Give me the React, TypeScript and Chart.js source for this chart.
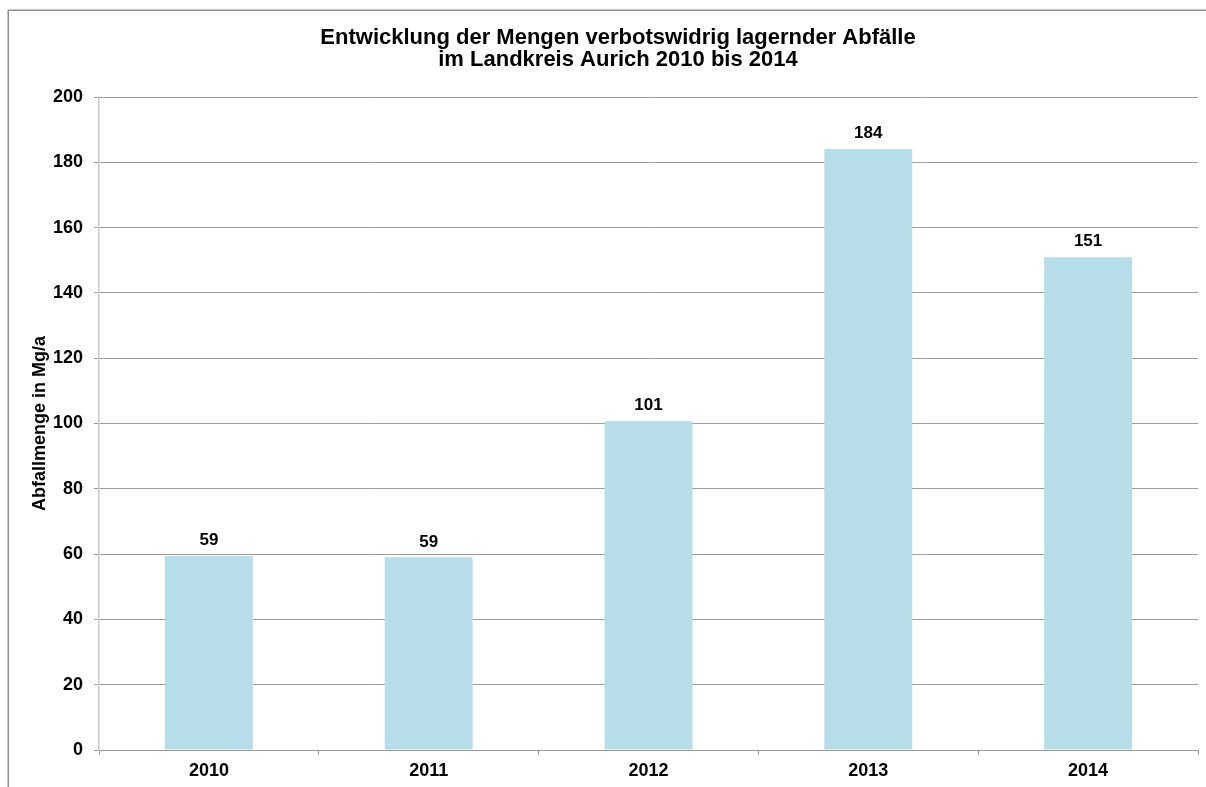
import React, { useEffect, useRef } from "react";
import { Chart, registerables } from "chart.js";

Chart.register(...registerables);

const categories = ["2010", "2011", "2012", "2013", "2014"];
const values = [59.4, 59.0, 100.7, 184.1, 150.9];
const titleLines = [
  "Entwicklung der Mengen verbotswidrig lagernder Abfälle",
  "im Landkreis Aurich 2010 bis 2014",
];
const yAxisTitle = "Abfallmenge in Mg/a";
const yMin = 0;
const yMax = 200;
const yStep = 20;

const FONT = "'Liberation Sans', Arial, sans-serif";

const framePlugin = {
  id: "frame",
  beforeDraw(chart: any) {
    const { ctx, width, height } = chart;
    ctx.save();
    ctx.fillStyle = "#ffffff";
    ctx.fillRect(0, 0, width, height);
    ctx.strokeStyle = "#8e8e8e";
    ctx.lineWidth = 1.5;
    ctx.strokeRect(8.25, 10.25, width + 100, height + 100);
    ctx.restore();
  },
};

const labelPlugin = {
  id: "barLabels",
  afterDatasetsDraw(chart: any) {
    const { ctx } = chart;
    const meta = chart.getDatasetMeta(0);
    ctx.save();
    ctx.font = `bold 17px ${FONT}`;
    ctx.fillStyle = "#000000";
    ctx.textAlign = "center";
    ctx.textBaseline = "bottom";
    meta.data.forEach((bar: any, i: number) => {
      const v = chart.data.datasets[0].data[i] as number;
      ctx.fillText(String(Math.round(v)), bar.x, bar.y - 7);
    });
    ctx.restore();
  },
};

export default function App() {
  const ref = useRef<HTMLCanvasElement | null>(null);

  useEffect(() => {
    if (!ref.current) return;
    const chart = new Chart(ref.current, {
      type: "bar",
      data: {
        labels: categories,
        datasets: [
          {
            data: values,
            backgroundColor: "#B7DDE8",
            borderWidth: 0,
            barPercentage: 0.4,
            categoryPercentage: 1.0,
          },
        ],
      },
      options: {
        responsive: false,
        animation: false,
        layout: { padding: { left: 38, right: 8, top: 10, bottom: 0 } },
        plugins: {
          legend: { display: false },
          tooltip: { enabled: false },
          title: {
            display: true,
            text: titleLines,
            color: "#000000",
            font: { family: FONT, size: 22, weight: "bold", lineHeight: 1.0 },
            padding: { top: 17, bottom: 26 },
          },
        },
        scales: {
          x: {
            grid: {
              display: true,
              drawOnChartArea: false,
              drawTicks: true,
              tickLength: 5,
              color: "#999999",
              offset: true,
            },
            border: { display: true, color: "#999999", width: 1 },
            ticks: {
              color: "#000000",
              font: { family: FONT, size: 18, weight: "bold" },
              padding: 5,
            },
            afterFit: (s: any) => {
              s.height = 37;
            },
          },
          y: {
            min: yMin,
            max: yMax,
            ticks: {
              stepSize: yStep,
              color: "#000000",
              font: { family: FONT, size: 18, weight: "bold" },
              padding: 11,
            },
            grid: {
              color: "#9c9c9c",
              tickLength: 5,
              drawTicks: true,
            },
            border: { display: true, color: "#c8c8c8", width: 1.5 },
            title: {
              display: true,
              text: yAxisTitle,
              color: "#000000",
              font: { family: FONT, size: 18, weight: "bold" },
              padding: { top: -9, bottom: 0 },
            },
            afterFit: (s: any) => {
              s.width = 61;
            },
          },
        },
      },
      plugins: [framePlugin, labelPlugin],
    });
    return () => chart.destroy();
  }, []);

  return (
    <div style={{ position: "fixed", left: 0, top: 0, width: 1206, height: 787, overflow: "hidden", background: "#fff" }}>
      <canvas ref={ref} width={1206} height={787} style={{ display: "block" }} />
    </div>
  );
}
